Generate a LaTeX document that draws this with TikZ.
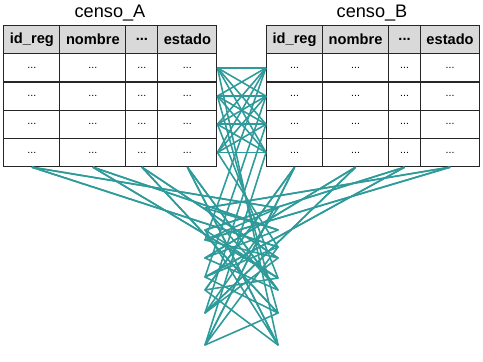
\documentclass[tikz,border=0pt]{standalone}
\usepackage{fontspec}
\setmainfont{Liberation Sans}
\usetikzlibrary{positioning,calc}
\definecolor{link}{HTML}{2E9A9A}
\definecolor{hdr}{HTML}{D9D9D9}
\newcommand{\elide}{...}

\begin{document}
\begin{tikzpicture}[x=0.03cm, y=-0.03cm,
    cell/.style={draw=black!85, line width=1pt, inner sep=0pt, anchor=north west,
                 minimum height=0.846cm, font=\fontsize{9}{10}\selectfont},
    head/.style={cell, fill=hdr, font=\fontsize{12.5}{14}\selectfont\bfseries},
    ttl/.style={font=\fontsize{15.5}{18}\selectfont, anchor=base},
    lnk/.style={draw=link, line width=1.35pt, line join=round},
  ]
  \useasboundingbox (0,0) rectangle (483,361);

  % Bounce points under the tables (r: right side, l: left side)
  \foreach \i/\da/\db in {1/247/208, 2/278/230, 3/313/258, 4/345/290} {
    \coordinate (ra\i) at (278,\da);
    \coordinate (rb\i) at (278,\db);
  }
  \foreach \j/\da/\db in {1/345/290, 2/313/258, 3/277/230, 4/240/208} {
    \coordinate (la\j) at (205,\da);
    \coordinate (lb\j) at (205,\db);
  }

  % Two tables, same columns: a = censo_A, b = censo_B
  \node[ttl] (titleA) at (110,17.5) {censo\_A};
  \node[ttl] (titleB) at (372,17.5) {censo\_B};
  \foreach \t/\x in {a/3.3, b/266} {
    \foreach \c/\dx/\w/\lab in {1/0/56/id\_reg, 2/56/66/nombre, 3/122/32/\elide, 4/154/59/estado} {
      \node[head, minimum width=\w*0.03cm] (\t h\c) at (\x+\dx,25) {\lab};
      \foreach \r in {1,2,3,4}
        \node[cell, minimum width=\w*0.03cm] (\t\r\c) at (\x+\dx,25+28.2*\r) {\elide};
    }
  }

  % Every row of A against every row of B
  \foreach \r in {1,2,3,4}
    \foreach \s in {1,2,3,4}
      \draw[lnk] (a\r4.east) -- (b\s1.west);

  % Rows dropping down through the gap
  \foreach \r/\k in {1/4, 2/3, 3/2, 4/1} {
    \draw[lnk] (a\r4.east) -- (ra\k);
    \draw[lnk] (b\r1.west) -- (la\k);
  }

  % Every column of A against every column of B
  \foreach \i/\q in {1/a, 2/b, 3/a, 4/b}
    \foreach \j/\p in {1/a, 2/b, 3/a, 4/b}
      \draw[lnk] (a4\i.south) -- (r\p\i) -- (l\q\j) -- (b4\j.south);
\end{tikzpicture}
\end{document}
